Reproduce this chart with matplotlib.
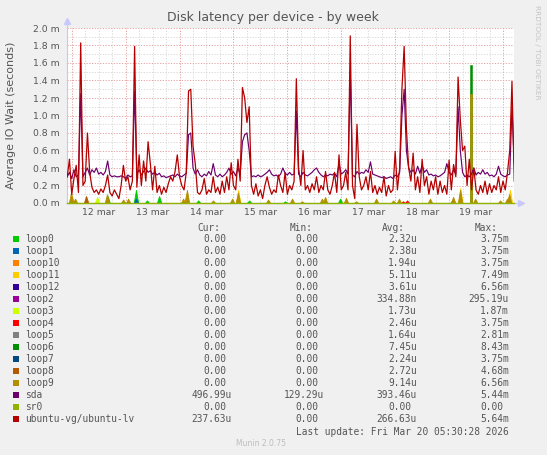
import numpy as np
import matplotlib
matplotlib.use("Agg")
import matplotlib.pyplot as plt
from matplotlib.patches import Rectangle

# hours since 12 mar 00:00, one sample per hour
hours = np.arange(-2, 198)

# ubuntu-vg/ubuntu-lv (ms)
ubuntu_lv = [0.30, 0.50,
    0.10, 0.28, 0.43, 0.12, 1.83, 0.20, 0.25, 0.80, 0.35, 0.18, 0.12, 0.15, 0.10, 0.16, 0.12, 0.20, 0.32, 0.12, 0.08, 0.15, 0.10, 0.05, 0.20, 0.43,
    0.25, 0.30, 0.15, 0.25, 1.79, 0.18, 0.55, 0.20, 0.48, 0.25, 0.70, 0.45, 0.15, 0.42, 0.12, 0.20, 0.10, 0.18, 0.12, 0.22, 0.30, 0.25, 0.36, 0.55,
    0.30, 0.20, 0.15, 0.35, 1.28, 1.30, 0.65, 0.45, 0.12, 0.10, 0.15, 0.28, 0.10, 0.15, 0.12, 0.30, 0.12, 0.18, 0.10, 0.25, 0.12, 0.30, 0.15, 0.46,
    0.20, 0.15, 0.50, 0.25, 1.32, 1.20, 0.92, 1.10, 0.20, 0.10, 0.22, 0.08, 0.15, 0.05, 0.20, 0.30, 0.18, 0.10, 0.15, 0.12, 0.32, 0.20, 0.12, 0.35,
    0.10, 0.20, 0.15, 0.25, 1.42, 0.40, 0.20, 0.60, 0.15, 0.20, 0.12, 0.22, 0.15, 0.30, 0.12, 0.20, 0.15, 0.36, 0.15, 0.10, 0.20, 0.35, 0.12, 0.55,
    0.15, 0.20, 0.35, 0.15, 1.91, 0.20, 0.05, 0.90, 0.30, 0.15, 0.20, 0.30, 0.15, 0.36, 0.12, 0.20, 0.10, 0.18, 0.12, 0.30, 0.08, 0.20, 0.12, 0.15,
    0.59, 0.15, 0.40, 1.30, 1.79, 0.85, 0.40, 0.25, 0.57, 0.15, 0.30, 0.12, 0.50, 0.20, 0.30, 0.10, 0.25, 0.15, 0.30, 0.10, 0.25, 0.12, 0.20, 0.10,
    0.49, 0.15, 0.44, 0.30, 1.44, 0.95, 0.60, 0.65, 0.20, 0.50, 0.15, 0.40, 0.15, 0.10, 0.20, 0.12, 0.25, 0.10, 0.22, 0.12, 0.20, 0.15, 0.30, 0.12,
    0.25, 0.15, 0.35, 0.60, 1.39, 0.25]

# sda (ms)
sda = [0.30, 0.35,
    0.28, 0.38, 0.30, 0.32, 1.25, 0.30, 0.35, 0.40, 0.32, 0.38, 0.35, 0.40, 0.33, 0.35, 0.32, 0.36, 0.48, 0.32, 0.30, 0.31, 0.30, 0.30, 0.31, 0.30,
    0.28, 0.32, 0.30, 0.31, 1.28, 0.33, 0.38, 0.32, 0.36, 0.40, 0.35, 0.37, 0.33, 0.35, 0.32, 0.34, 0.30, 0.31, 0.29, 0.30, 0.31, 0.32, 0.30, 0.33,
    0.31, 0.30, 0.32, 0.34, 0.78, 0.80, 0.40, 0.33, 0.38, 0.32, 0.30, 0.33, 0.31, 0.36, 0.32, 0.45, 0.32, 0.30, 0.33, 0.30, 0.32, 0.35, 0.40, 0.33,
    0.36, 0.31, 0.40, 0.33, 0.70, 0.78, 0.80, 0.60, 0.30, 0.31, 0.30, 0.32, 0.30, 0.31, 0.33, 0.35, 0.38, 0.33, 0.31, 0.32, 0.30, 0.33, 0.40, 0.34,
    0.32, 0.35, 0.32, 0.33, 1.05, 0.33, 0.30, 0.35, 0.32, 0.31, 0.33, 0.35, 0.38, 0.40, 0.35, 0.32, 0.30, 0.32, 0.31, 0.33, 0.32, 0.34, 0.30, 0.45,
    0.33, 0.35, 0.38, 0.33, 1.50, 0.32, 0.30, 0.36, 0.33, 0.35, 0.34, 0.38, 0.35, 0.47, 0.33, 0.32, 0.31, 0.30, 0.29, 0.30, 0.28, 0.29, 0.30, 0.28,
    0.32, 0.30, 0.35, 1.00, 1.30, 0.60, 0.40, 0.35, 0.38, 0.33, 0.42, 0.34, 0.43, 0.35, 0.38, 0.32, 0.33, 0.31, 0.32, 0.30, 0.31, 0.33, 0.35, 0.45,
    0.35, 0.32, 0.38, 0.33, 1.10, 0.60, 0.35, 0.30, 0.32, 0.30, 0.33, 0.40, 0.32, 0.35, 0.33, 0.38, 0.33, 0.35, 0.31, 0.32, 0.30, 0.33, 0.42, 0.33,
    0.31, 0.30, 0.32, 0.33, 1.10, 0.45]

sr0_value = 0.0

# loop devices: (hour, ms) of the short spikes
loop0_spikes = [(16.0, 0.08), (28.6, 0.15), (33.5, 0.03), (38.9, 0.08), (56.3, 0.03), (79.0, 0.03), (95.0, 0.02), (119.5, 0.05)]
loop1_spikes = [(28.6, 0.05)]
loop11_spikes = [(0.1, 0.08), (51.0, 0.10), (74.1, 0.15), (173.0, 0.17), (195.1, 0.15)]
loop3_spikes = [(11.3, 0.07)]
loop4_spikes = [(147.5, 0.02), (149.3, 0.03), (169.6, 0.04), (194.5, 0.04)]
loop6_spikes = [(177.7, 1.58)]
loop8_spikes = [(6.4, 0.08)]
loop9_spikes = [(-0.3, 0.12), (1.5, 0.05), (15.7, 0.10), (22.9, 0.04), (25.1, 0.05), (49.6, 0.05), (51.3, 0.15),
                (62.9, 0.03), (71.4, 0.05), (74.0, 0.12), (87.4, 0.04), (98.1, 0.05), (102.5, 0.02), (111.4, 0.05),
                (112.8, 0.07), (122.1, 0.06), (126.6, 0.02), (135.5, 0.05), (143.1, 0.03), (145.7, 0.05),
                (159.5, 0.05), (169.8, 0.07), (172.9, 0.15), (177.7, 1.25), (179.6, 0.05), (190.7, 0.03),
                (193.8, 0.05), (194.7, 0.10)]

day_labels = ["12 mar", "13 mar", "14 mar", "15 mar", "16 mar", "17 mar", "18 mar", "19 mar"]

names = ["loop0", "loop1", "loop10", "loop11", "loop12", "loop2", "loop3", "loop4", "loop5",
         "loop6", "loop7", "loop8", "loop9", "sda", "sr0", "ubuntu-vg/ubuntu-lv"]
colors = ["#00CC00", "#0066B3", "#FF8000", "#FFCC00", "#330099", "#990099", "#CCFF00", "#FF0000",
          "#808080", "#008F00", "#00487D", "#B35A00", "#B38F00", "#6B006B", "#8FB300", "#B30000"]
cur_vals = ["0.00"] * 13 + ["496.99u", "0.00", "237.63u"]
min_vals = ["0.00"] * 13 + ["129.29u", "0.00", "0.00"]
avg_vals = ["2.32u", "2.38u", "1.94u", "5.11u", "3.61u", "334.88n", "1.73u", "2.46u", "1.64u",
            "7.45u", "2.24u", "2.72u", "9.14u", "393.46u", "0.00", "266.63u"]
max_vals = ["3.75m", "3.75m", "3.75m", "7.49m", "6.56m", "295.19u", "1.87m", "3.75m", "2.81m",
            "8.43m", "3.75m", "4.68m", "6.56m", "5.44m", "0.00", "5.64m"]

W, H = 547, 455
TXT = "#555555"
fig = plt.figure(figsize=(W / 100, H / 100), dpi=100, facecolor="#F0F0F0")
ax = fig.add_axes([67 / W, 1 - 203 / H, 447 / W, 175 / H])
ax.set_facecolor("white")
xmin, xmax = -2.1, 196.9
ax.set_xlim(xmin, xmax)
ax.set_ylim(0, 2.0)
for s in ax.spines.values():
    s.set_visible(False)

# grid
dots = (0, (1.2, 1.6))
for h in np.arange(0, 197, 6):
    major = h % 24 == 0
    ax.axvline(h, color="#E8A0A0" if major else "#D8D8D8", lw=0.7, ls=dots, zorder=0.5 if major else 0.4)
for v in np.arange(0.1, 2.01, 0.1):
    major = round(v * 10) % 2 == 0
    ax.axhline(v, color="#E8A0A0" if major else "#D8D8D8", lw=0.7, ls=dots, zorder=0.5 if major else 0.4)

# axis lines + arrows
ax.plot([xmin, xmin], [0, 2.07], color="#C8C8E8", lw=0.8, clip_on=False, zorder=1)
ax.plot([xmin, 199.0], [0, 0], color="#C8C8E8", lw=0.8, clip_on=False, zorder=1)
ax.plot([xmin], [2.08], marker="^", ms=4.5, color="#C8C8FF", clip_on=False, zorder=1)
ax.plot([199.8], [0], marker=">", ms=4.5, color="#C8C8FF", clip_on=False, zorder=1)

ax.set_yticks(np.arange(0, 2.01, 0.2))
ax.set_yticklabels(["%.1f m" % v for v in np.arange(0, 2.01, 0.2)])
ax.set_xticks(np.arange(12, 192, 24))
ax.set_xticklabels(day_labels)
ax.tick_params(axis="both", length=0, labelsize=6.7, labelcolor=TXT)
ax.tick_params(axis="y", pad=5)
ax.tick_params(axis="x", pad=3.5)


def spikes(pairs, color, half=1.0):
    for t, v in pairs:
        ax.fill_between([t - half, t, t + half], [0, v, 0], color=color, lw=0.6, zorder=2)


def bar(pairs, color, half=0.6):
    for t, v in pairs:
        ax.fill_between([t - half, t + half], [v, v], color=color, lw=0.4, zorder=2)


spikes(loop0_spikes, colors[0])
spikes(loop1_spikes, colors[1])
spikes(loop11_spikes, colors[3])
spikes(loop3_spikes, colors[6])
spikes(loop4_spikes, colors[7])
bar(loop6_spikes, colors[9])
spikes(loop8_spikes, colors[11])
spikes([p for p in loop9_spikes if p[1] < 1], colors[12])
bar([p for p in loop9_spikes if p[1] >= 1], colors[12])

ax.plot(hours, sda, color=colors[13], lw=0.85, zorder=3)
ax.plot(hours, np.full(len(hours), sr0_value), color=colors[14], lw=1.0, zorder=3, clip_on=False)
ax.plot(hours, ubuntu_lv, color=colors[15], lw=0.9, zorder=4)

fig.text(273 / W, 1 - 17 / H, "Disk latency per device - by week", ha="center", va="center",
         fontsize=9, color=TXT)
fig.text(11 / W, 1 - 115 / H, "Average IO Wait (seconds)", rotation=90, ha="center", va="center",
         fontsize=8, color=TXT)
fig.text(537 / W, 1 - 5 / H, "RRDTOOL / TOBI OETIKER", rotation=-90, ha="center", va="top",
         fontsize=5.3, color="#C4C4C4")

# legend table
mono = dict(family="DejaVu Sans Mono", fontsize=6.85, color=TXT, va="center")
cw = 5.7
cols = [231.7, 324.0, 416.7, 509.0]
for x_end, head in zip(cols, ["Cur:", "Min:", "Avg:", "Max:"]):
    fig.text((x_end - 2 * cw) / W, 1 - 227.7 / H, head, ha="right", **mono)
for i, name in enumerate(names):
    y = 239.3 + 12 * i
    fig.add_artist(Rectangle((13.3 / W, 1 - (y + 3) / H), 6 / W, 6 / H, transform=fig.transFigure,
                             facecolor=colors[i], edgecolor="none"))
    fig.text(25 / W, 1 - y / H, name, ha="left", **mono)
    for x_end, vals in zip(cols, [cur_vals, min_vals, avg_vals, max_vals]):
        s = vals[i]
        xe = x_end if s[-1].isalpha() else x_end - cw
        fig.text(xe / W, 1 - y / H, s, ha="right", **mono)
fig.text(509 / W, 1 - 431.7 / H, "Last update: Fri Mar 20 05:30:28 2026", ha="right", **mono)
fig.text(260.7 / W, 1 - 444 / H, "Munin 2.0.75", ha="center", va="center", fontsize=5.5, color="#BDBDBD")

fig.savefig("out.png", dpi=100, facecolor=fig.get_facecolor())
